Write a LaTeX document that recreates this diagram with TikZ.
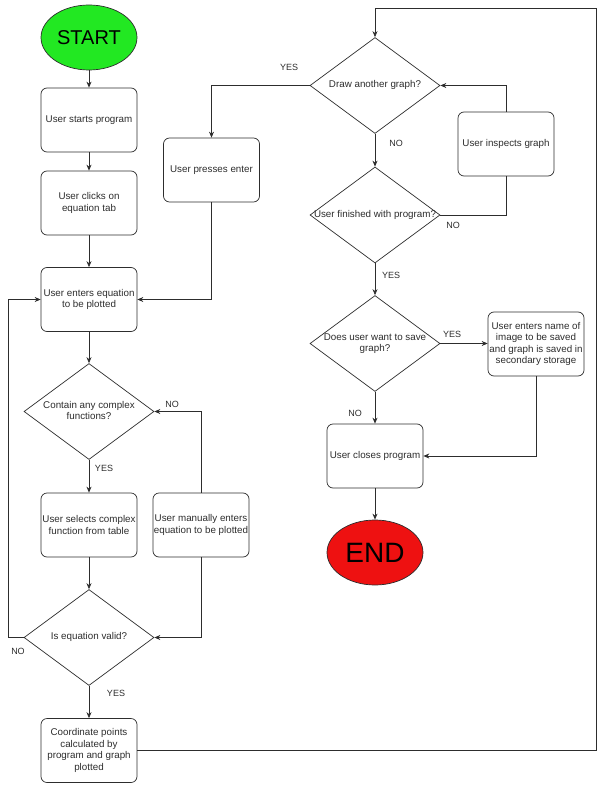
\documentclass[tikz,border=0pt]{standalone}
\usepackage{fontspec}
\setmainfont{Liberation Sans}
\usetikzlibrary{shapes.geometric,arrows.meta}

\definecolor{startgreen}{RGB}{34,232,34}
\definecolor{endred}{RGB}{238,17,17}
\definecolor{ink}{RGB}{45,45,45}
\newcommand{\dtext}[1]{\makebox[0pt]{\begin{tabular}{@{}c@{}}#1\end{tabular}}}

\tikzset{
   stepbox/.style={draw=ink, line width=0.7pt, rounded corners=6pt, minimum width=96pt, minimum height=64pt,
      inner sep=0.5pt, align=center, text=ink, font=\fontsize{9.8}{11.5}\selectfont},
   decision/.style={diamond, draw=ink, line width=0.7pt, fill=white, minimum width=130pt, minimum height=96pt,
      inner sep=0pt, text=ink, font=\fontsize{9.8}{11.5}\selectfont},
   terminal/.style={ellipse, draw=ink, line width=0.7pt, minimum width=96pt, minimum height=65pt, inner sep=0pt},
   flow/.style={draw=ink, line width=0.7pt, -{Stealth[length=6pt,width=5pt]}},
   link/.style={draw=ink, line width=0.7pt},
   answer/.style={text=ink, font=\fontsize{9}{11}\selectfont}
}

\begin{document}
\begin{tikzpicture}[x=1pt, y=-1pt]
   \useasboundingbox (0,0) rectangle (606,786);

   % Left column
   \node[terminal, fill=startgreen, font=\fontsize{20}{24}\selectfont] (start) at (89,37.5) {START};
   \node[stepbox] (b1) at (89,120) {User starts program};
   \node[stepbox] (b2) at (89,203) {User clicks on\\equation tab};
   \node[stepbox] (b3) at (89,299.5) {User enters equation\\to be plotted};
   \node[decision] (d1) at (89,411.5) {\dtext{Contain any complex\\functions?}};
   \node[stepbox] (sel) at (89,525) {User selects complex\\function from table};
   \node[stepbox] (man) at (201,525) {User manually enters\\equation to be plotted};
   \node[decision] (d2) at (89,637.5) {\dtext{Is equation valid?}};
   \node[stepbox] (coord) at (89,750.5) {Coordinate points\\calculated by\\program and graph\\plotted};

   % Right column
   \node[decision] (d3) at (375,85.5) {\dtext{Draw another graph?}};
   \node[stepbox] (enter) at (211.5,170) {User presses enter};
   \node[stepbox] (insp) at (506,144) {User inspects graph};
   \node[decision] (d4) at (375,215) {\dtext{User finished with program?}};
   \node[decision] (d5) at (375,343.5) {\dtext{Does user want to save\\graph?}};
   \node[stepbox] (save) at (536,344) {User enters name of\\image to be saved\\and graph is saved in\\secondary storage};
   \node[stepbox] (close) at (375,456) {User closes program};
   \node[terminal, fill=endred, font=\fontsize{28}{32}\selectfont] (stop) at (375,552.5) {END};

   % Answers
   \node[answer] (yesA) at (104,468) {YES};
   \node[answer] (noA) at (172,404) {NO};
   \node[answer] (yesB) at (116,693) {YES};
   \node[answer] (noB) at (18,651) {NO};
   \node[answer] (yesC) at (289,67) {YES};
   \node[answer] (noC) at (396,143) {NO};
   \node[answer] (noD) at (453,225) {NO};
   \node[answer] (yesD) at (391,275) {YES};
   \node[answer] (yesE) at (452,334) {YES};
   \node[answer] (noE) at (355,413) {NO};

   % Corners of the long loops
   \coordinate (lx) at (8,0);
   \coordinate (rx) at (596,8);

   % Main flow
   \draw[flow] (start) -- (b1);
   \draw[flow] (b1) -- (b2);
   \draw[flow] (b2) -- (b3);
   \draw[flow] (b3) -- (d1);
   \draw[flow] (d1) -- (sel);
   \draw[flow] (sel) -- (d2);
   \draw[flow] (d2) -- (coord);
   \draw[flow] (d2.west) -- (d2.west -| lx) |- (b3.west);
   \draw[flow] (man.north) |- (d1.east);
   \draw[flow] (man.south) |- (d2.east);
   \draw[flow] (coord.east) -| (rx) -| (d3.north);
   \draw[flow] (d3.west) -| (enter.north);
   \draw[flow] (enter.south) |- (b3.east);
   \draw[flow] (d3) -- (d4);
   \draw[link] (d4.east) -| (insp.south);
   \draw[flow] (insp.north) |- (d3.east);
   \draw[flow] (d4) -- (d5);
   \draw[flow] (d5.east) -- (save.west |- d5.east);
   \draw[flow] (d5) -- (close);
   \draw[flow] (save.south) |- (close.east);
   \draw[flow] (close) -- (stop);

\end{tikzpicture}
\end{document}
